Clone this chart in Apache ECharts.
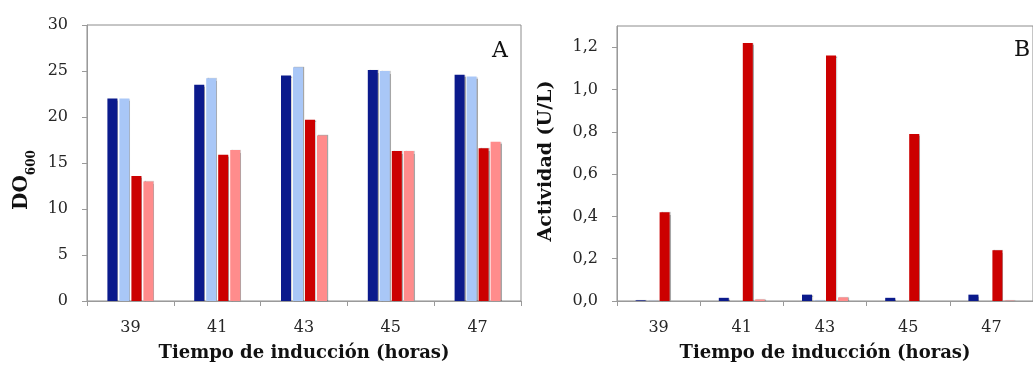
<!DOCTYPE html>
<html>
<head>
<meta charset="utf-8">
<script src="https://cdn.jsdelivr.net/npm/echarts@6/dist/echarts.min.js"></script>
<style>
html,body{margin:0;padding:0;background:#fff;}
#chart{width:1033px;height:367px;}
</style>
</head>
<body>
<div id="chart"></div>
<script>
// ---- data ----
const categories = ['39', '41', '43', '45', '47'];
// Panel A: DO600
const odDarkBlue  = [22.0, 23.5, 24.5, 25.1, 24.6];
const odLightBlue = [22.0, 24.2, 25.4, 25.0, 24.4];
const odRed       = [13.6, 15.9, 19.7, 16.3, 16.6];
const odPink      = [13.0, 16.4, 18.0, 16.3, 17.3];
// Panel B: Actividad (U/L)
const actDarkBlue  = [0.003, 0.015, 0.030, 0.015, 0.030];
const actLightBlue = [0.001, 0.000, 0.002, 0.000, 0.000];
const actRed       = [0.42, 1.22, 1.16, 0.79, 0.24];
const actPink      = [0.000, 0.007, 0.017, 0.000, 0.002];
// tick labels
const yTicksA = [0, 5, 10, 15, 20, 25, 30];
const yTicksB = [0, 0.2, 0.4, 0.6, 0.8, 1.0, 1.2];
const yMaxB = 1.3;

const colors = ['#0b1a8c', '#a9c7f7', '#cc0000', '#ff8c8c'];
const FONT = 'DejaVu Serif';
const axisGray = '#9a9a9a';
const textColor = '#262626';

function bar(name, data, idx, gridIdx) {
  return {
    type: 'bar', name: name, data: data,
    xAxisIndex: gridIdx, yAxisIndex: gridIdx,
    barWidth: 10, barGap: '20%',
    itemStyle: {
      color: colors[idx],
      shadowColor: 'rgba(0,0,0,0.35)', shadowOffsetX: 1, shadowBlur: 1
    },
    emphasis: {disabled: true},
    animation: false
  };
}

function xAxis(gridIdx) {
  return {
    type: 'category', gridIndex: gridIdx, data: categories,
    axisLine: {lineStyle: {color: axisGray}},
    axisTick: {show: true, length: 5, lineStyle: {color: axisGray}},
    axisLabel: {fontFamily: FONT, fontSize: 16, color: textColor, margin: 19},
    name: 'Tiempo de inducción (horas)',
    nameLocation: 'middle', nameGap: 43,
    nameTextStyle: {fontFamily: FONT, fontSize: 18, fontWeight: 'bold', color: '#111'}
  };
}

const chart = echarts.init(document.getElementById('chart'));
chart.setOption({
  backgroundColor: '#fff',
  animation: false,
  grid: [
    {left: 87, top: 25, right: 512, bottom: 66, show: true, borderColor: '#8c8c8c', borderWidth: 1},
    {left: 617, top: 26, right: -13, bottom: 66, show: true, borderColor: '#8c8c8c', borderWidth: 1}
  ],
  xAxis: [xAxis(0), xAxis(1)],
  yAxis: [
    {
      type: 'value', gridIndex: 0,
      min: yTicksA[0], max: yTicksA[yTicksA.length - 1], interval: yTicksA[1] - yTicksA[0],
      splitLine: {show: false},
      axisLine: {show: true, lineStyle: {color: axisGray}},
      axisTick: {show: true, length: 5, lineStyle: {color: axisGray}},
      axisLabel: {fontFamily: FONT, fontSize: 16, color: textColor, margin: 19}
    },
    {
      type: 'value', gridIndex: 1,
      min: yTicksB[0], max: yMaxB, interval: yTicksB[1] - yTicksB[0],
      splitLine: {show: false},
      axisLine: {show: true, lineStyle: {color: axisGray}},
      axisTick: {show: true, length: 5, lineStyle: {color: axisGray}},
      axisLabel: {
        fontFamily: FONT, fontSize: 16, color: textColor, margin: 19,
        showMaxLabel: false,
        formatter: function (v) { return v > 1.25 ? '' : v.toFixed(1).replace('.', ','); }
      }
    }
  ],
  graphic: [
    {
      type: 'text', x: 22, y: 180, rotation: Math.PI / 2,
      style: {
        text: '{a|DO}{s|600}', align: 'center', verticalAlign: 'middle',
        rich: {
          a: {fontFamily: FONT, fontSize: 20, fontWeight: 'bold', fill: '#111', lineHeight: 20},
          s: {fontFamily: FONT, fontSize: 12, fontWeight: 'bold', fill: '#111', lineHeight: 12, padding: [19, 0, 0, 0]}
        }
      }
    },
    {
      type: 'text', x: 546, y: 161, rotation: Math.PI / 2,
      style: {
        text: 'Actividad (U/L)', align: 'center', verticalAlign: 'middle',
        font: 'bold 19px "' + FONT + '"', fill: '#111'
      }
    },
    {
      type: 'text', x: 500, y: 51,
      style: {text: 'A', align: 'center', verticalAlign: 'middle', font: '22px "' + FONT + '"', fill: '#111'}
    },
    {
      type: 'text', x: 1022, y: 50,
      style: {text: 'B', align: 'center', verticalAlign: 'middle', font: '22px "' + FONT + '"', fill: '#111'}
    }
  ],
  series: [
    bar('A1', odDarkBlue, 0, 0),
    bar('A2', odLightBlue, 1, 0),
    bar('A3', odRed, 2, 0),
    bar('A4', odPink, 3, 0),
    bar('B1', actDarkBlue, 0, 1),
    bar('B2', actLightBlue, 1, 1),
    bar('B3', actRed, 2, 1),
    bar('B4', actPink, 3, 1)
  ]
});
</script>
</body>
</html>
